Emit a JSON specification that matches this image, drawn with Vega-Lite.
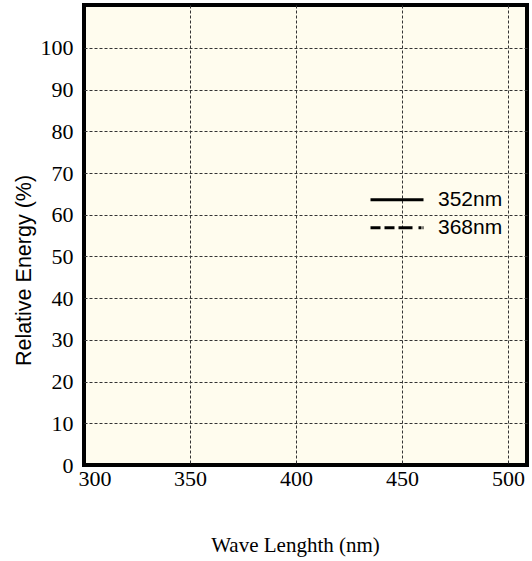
{
  "$schema": "https://vega.github.io/schema/vega-lite/v6.json",
  "width": 443,
  "height": 460,
  "autosize": {"type": "none"},
  "padding": {"left": 84, "top": 5, "right": 5, "bottom": 96},
  "background": "#ffffff",
  "data": {
    "values": [
      {"series": "352nm", "wavelength": null, "energy": null},
      {"series": "368nm", "wavelength": null, "energy": null}
    ]
  },
  "mark": {"type": "line", "color": "black", "strokeWidth": 3},
  "encoding": {
    "x": {
      "field": "wavelength",
      "type": "quantitative",
      "scale": {"domain": [300, 509], "nice": false, "zero": false},
      "axis": {
        "title": "Wave Lenghth (nm)",
        "values": [300, 350, 400, 450, 500],
        "ticks": false,
        "domain": false,
        "labelFont": "Liberation Serif",
        "labelFontSize": 22,
        "labelPadding": 3,
        "labelFlush": true,
        "labelFlushOffset": 6,
        "grid": true,
        "gridOpacity": {"condition": {"test": "datum.value == 300", "value": 0}, "value": 1},
        "titleAlign": "center",
        "titleBaseline": "middle",
        "titleX": 211,
        "titleY": 80
      }
    },
    "y": {
      "field": "energy",
      "type": "quantitative",
      "scale": {"domain": [0, 110.3], "nice": false, "zero": false},
      "axis": {
        "title": "Relative Energy (%)",
        "values": [0, 10, 20, 30, 40, 50, 60, 70, 80, 90, 100],
        "ticks": false,
        "domain": false,
        "labelFont": "Liberation Serif",
        "labelFontSize": 22,
        "labelPadding": 11,
        "grid": true,
        "gridOpacity": {"condition": {"test": "datum.value == 0", "value": 0}, "value": 1},
        "titleFont": "Liberation Sans",
        "titleFontSize": 21.5,
        "titleAngle": -90,
        "titleAlign": "center",
        "titleBaseline": "middle",
        "titleX": -60,
        "titleY": 265
      }
    },
    "strokeDash": {
      "field": "series",
      "type": "nominal",
      "scale": {"domain": ["352nm", "368nm"], "range": [[1, 0], [10, 4, 10, 4, 14, 6, 3, 1]]},
      "legend": {
        "title": null,
        "orient": "none",
        "legendX": 302.5,
        "legendY": 184.3,
        "padding": 0,
        "symbolType": "M-5.3,0H5.3",
        "symbolSize": 100,
        "symbolStrokeWidth": 3,
        "symbolStrokeColor": "#000000",
        "symbolFillColor": "transparent",
        "symbolOffset": 0,
        "labelOffset": 30.5,
        "labelFont": "Liberation Sans",
        "labelFontSize": 21,
        "labelColor": "#000000",
        "rowPadding": 6
      }
    }
  },
  "config": {
    "view": {"fill": "#fffcee", "stroke": "#000000", "strokeWidth": 4},
    "axis": {
      "labelColor": "#000000",
      "titleFont": "Liberation Serif",
      "titleFontSize": 21,
      "titleFontWeight": "normal",
      "titleColor": "#000000",
      "gridColor": "#333333",
      "gridDash": [3, 2],
      "gridWidth": 1
    }
  }
}
